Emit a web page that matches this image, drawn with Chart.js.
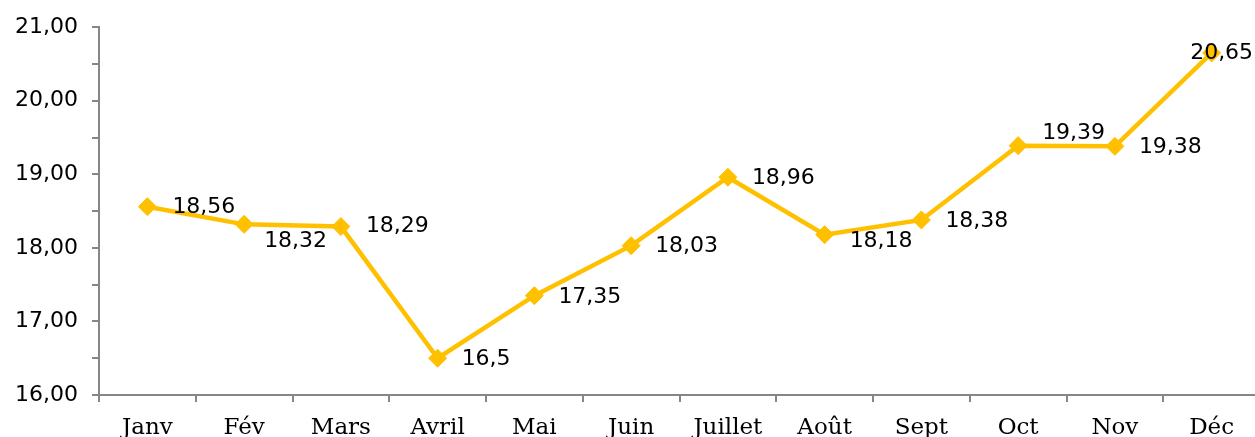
<!DOCTYPE html>
<html>
<head>
<meta charset="utf-8">
<script src="https://cdn.jsdelivr.net/npm/chart.js@4/dist/chart.umd.min.js"></script>
<style>
  html, body { margin: 0; padding: 0; background: #fff; overflow: hidden; }
  #wrap { width: 1270px; height: 437px; }
</style>
</head>
<body>
<div id="wrap"><canvas id="c" width="1270" height="437"></canvas></div>
<script>
// Monthly values
const months = ['Janv', 'Fév', 'Mars', 'Avril', 'Mai', 'Juin', 'Juillet', 'Août', 'Sept', 'Oct', 'Nov', 'Déc'];
const values = [18.56, 18.32, 18.29, 16.5, 17.35, 18.03, 18.96, 18.18, 18.38, 19.39, 19.38, 20.65];
const valueLabels = ['18,56', '18,32', '18,29', '16,5', '17,35', '18,03', '18,96', '18,18', '18,38', '19,39', '19,38', '20,65'];
const yMin = 16, yMax = 21;

// Where each value label sits relative to its point: [dx, dy, align]
const labelPlacement = [
  [25, 1, 'left'], [20, 17, 'left'], [25, 0, 'left'], [24, 1, 'left'],
  [24, 2, 'left'], [24, 1, 'left'], [24, 1, 'left'], [25, 7, 'left'],
  [24, 1, 'left'], [24, -12, 'left'], [24, 1, 'left'], [10, 0, 'center']
];

const GOLD = '#FFC000';
const AXIS = '#868686';

const valueLabelPlugin = {
  id: 'valueLabels',
  afterDatasetsDraw(chart) {
    const ctx = chart.ctx;
    const meta = chart.getDatasetMeta(0);
    ctx.save();
    ctx.font = '22px "DejaVu Sans"';
    ctx.fillStyle = '#000';
    ctx.textBaseline = 'middle';
    meta.data.forEach((pt, i) => {
      const [dx, dy, align] = labelPlacement[i];
      ctx.textAlign = align;
      ctx.fillText(valueLabels[i], pt.x + dx, pt.y + dy);
    });
    ctx.restore();
  }
};

new Chart(document.getElementById('c'), {
  type: 'line',
  data: {
    labels: months,
    datasets: [{
      data: values,
      borderColor: GOLD,
      backgroundColor: GOLD,
      borderWidth: 4.5,
      pointStyle: 'rectRot',
      pointRadius: 9,
      pointBorderWidth: 1,
      pointBorderColor: GOLD,
      pointBackgroundColor: GOLD,
      tension: 0
    }]
  },
  options: {
    responsive: false,
    animation: false,
    layout: { padding: { top: 27, right: 4, left: 0, bottom: 0 } },
    plugins: { legend: { display: false }, tooltip: { enabled: false } },
    scales: {
      x: {
        offset: true,
        afterFit(s) { s.height = 42; },
        border: { color: AXIS, width: 2 },
        grid: { offset: true, drawOnChartArea: false, drawTicks: true, tickLength: 7, color: AXIS, lineWidth: 2 },
        ticks: { color: '#000', padding: 12, font: { family: '"DejaVu Serif"', size: 23 }, maxRotation: 0, autoSkip: false }
      },
      y: {
        min: yMin, max: yMax,
        afterFit(s) { s.width = 99; },
        border: { color: AXIS, width: 2 },
        grid: { drawOnChartArea: false, drawTicks: true, tickLength: 7, color: AXIS, lineWidth: 2 },
        ticks: {
          stepSize: 0.5,
          color: '#000',
          padding: 14,
          font: { family: '"DejaVu Sans"', size: 22 },
          callback: (v) => Number.isInteger(v) ? v.toFixed(2).replace('.', ',') : ''
        }
      }
    }
  },
  plugins: [valueLabelPlugin]
});
</script>
</body>
</html>
